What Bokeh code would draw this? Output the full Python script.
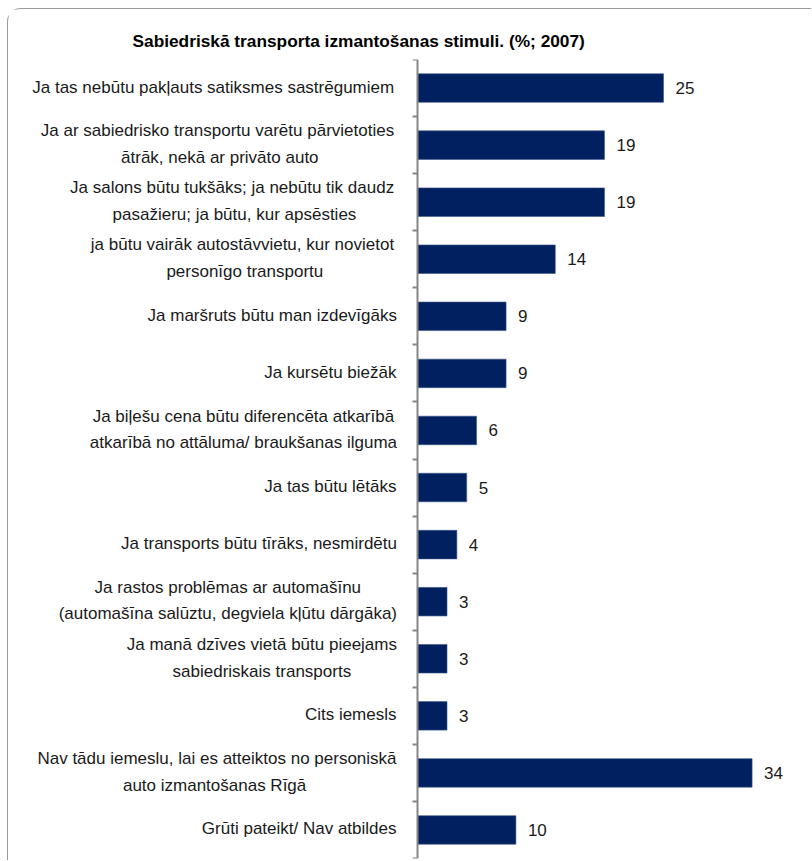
import unicodedata
from bokeh.plotting import figure
from bokeh.models import Range1d, FixedTicker, Title, ColumnDataSource
from bokeh.core.properties import value
from bokeh.embed import file_html
from bokeh.resources import INLINE

categories = [
    "Ja tas nebūtu pakļauts satiksmes  sastrēgumiem",
    "Ja ar sabiedrisko  transportu varētu pārvietoties\nātrāk, nekā ar privāto auto",
    "Ja salons būtu tukšāks;  ja nebūtu tik daudz\npasažieru; ja būtu, kur apsēsties",
    "ja būtu vairāk autostāvvietu,  kur novietot\npersonīgo transportu",
    "Ja maršruts būtu man izdevīgāks",
    "Ja kursētu biežāk",
    "Ja biļešu cena būtu diferencēta atkarībā\natkarībā no attāluma/ braukšanas ilguma",
    "Ja tas būtu lētāks",
    "Ja transports būtu tīrāks, nesmirdētu",
    "Ja rastos problēmas ar automašīnu\n(automašīna salūztu, degviela kļūtu dārgāka)",
    "Ja manā dzīves vietā būtu pieejams\nsabiedriskais transports",
    "Cits iemesls",
    "Nav tādu iemeslu, lai es atteiktos no personiskā\nauto izmantošanas  Rīgā",
    "Grūti pateikt/ Nav atbildes",
]
values = [25, 19, 19, 14, 9, 9, 6, 5, 4, 3, 3, 3, 34, 10]
title_text = "Sabiedriskā transporta izmantošanas stimuli. (%; 2007)"

FONT = "Liberation Sans"
FS = 17
STANDOFF = 21

# approximate Arial / Liberation Sans advance widths (per 1000 em) for centring lines
W = {" ": 278, ",": 278, ".": 278, ";": 278, ":": 278, "/": 278, "(": 333, ")": 333, "-": 333}
W.update(dict(zip("ABCDEFGHIJKLMNOPQRSTUVWXYZ",
                  [667, 667, 722, 722, 667, 611, 778, 722, 278, 500, 667, 556, 833,
                   722, 778, 667, 778, 722, 667, 611, 722, 667, 944, 667, 667, 611])))
W.update(dict(zip("abcdefghijklmnopqrstuvwxyz",
                  [556, 556, 500, 556, 556, 278, 556, 556, 222, 222, 500, 222, 833,
                   556, 556, 556, 556, 333, 500, 278, 556, 500, 722, 500, 500, 500])))


def text_width(s):
    s = " ".join(s.split())
    tot = 0
    for ch in s:
        base = unicodedata.normalize("NFD", ch)[0]
        tot += W.get(base, 556)
    return tot * FS / 1000.0


n = len(categories)
pos = list(range(n))
offsets = [-(STANDOFF + max(text_width(l) for l in c.split("\n")) / 2) for c in categories]
src = ColumnDataSource(dict(y=pos, v=values, lbl=[str(v) for v in values],
                            cat=categories, xo=offsets, zero=[0] * n))

p = figure(width=804, height=852, output_backend="svg", toolbar_location=None,
           x_range=Range1d(-39.53, 40.14), y_range=Range1d(n - 0.5, -0.5),
           min_border_left=20, min_border_right=0, min_border_top=50, min_border_bottom=3)
p.outline_line_color = None
p.xgrid.visible = False
p.ygrid.visible = False
p.xaxis.visible = False

p.hbar(y="y", right="v", left=0, height=0.5, source=src,
       fill_color="#002060", line_color="#3b5688", line_width=0.6)

p.text(x="v", y="y", text="lbl", source=src, x_offset=12,
       text_baseline="middle", text_align="left",
       text_font=value(FONT), text_font_size=f"{FS}px", text_color="#1a1a1a")

p.text(x="zero", y="y", text="cat", source=src, x_offset="xo", y_offset=-1,
       text_baseline="middle", text_align="center", text_line_height=1.4,
       text_font=value(FONT), text_font_size=f"{FS}px", text_color="#1a1a1a")

ax = p.yaxis[0]
ax.fixed_location = 0
ax.ticker = FixedTicker(ticks=[], minor_ticks=[i - 0.5 for i in range(n + 1)])
ax.major_tick_line_color = None
ax.major_label_text_font_size = "0px"
ax.minor_tick_in = 0
ax.minor_tick_out = 5
ax.minor_tick_line_color = "#868686"
ax.minor_tick_line_width = 2
ax.axis_line_color = "#868686"
ax.axis_line_width = 2

t = Title(text=title_text, align="left", offset=104, standoff=17, text_font=FONT,
          text_font_size="17.3px", text_font_style="bold", text_color="#000000")
p.add_layout(t, "above")
p.title.visible = False

p.styles = {"margin-left": "7px", "margin-top": "8px",
            "border-top": "1px solid #9a9a9a", "border-left": "1px solid #9a9a9a",
            "border-top-left-radius": "14px"}

open("out.html", "w").write(file_html(p, INLINE))
